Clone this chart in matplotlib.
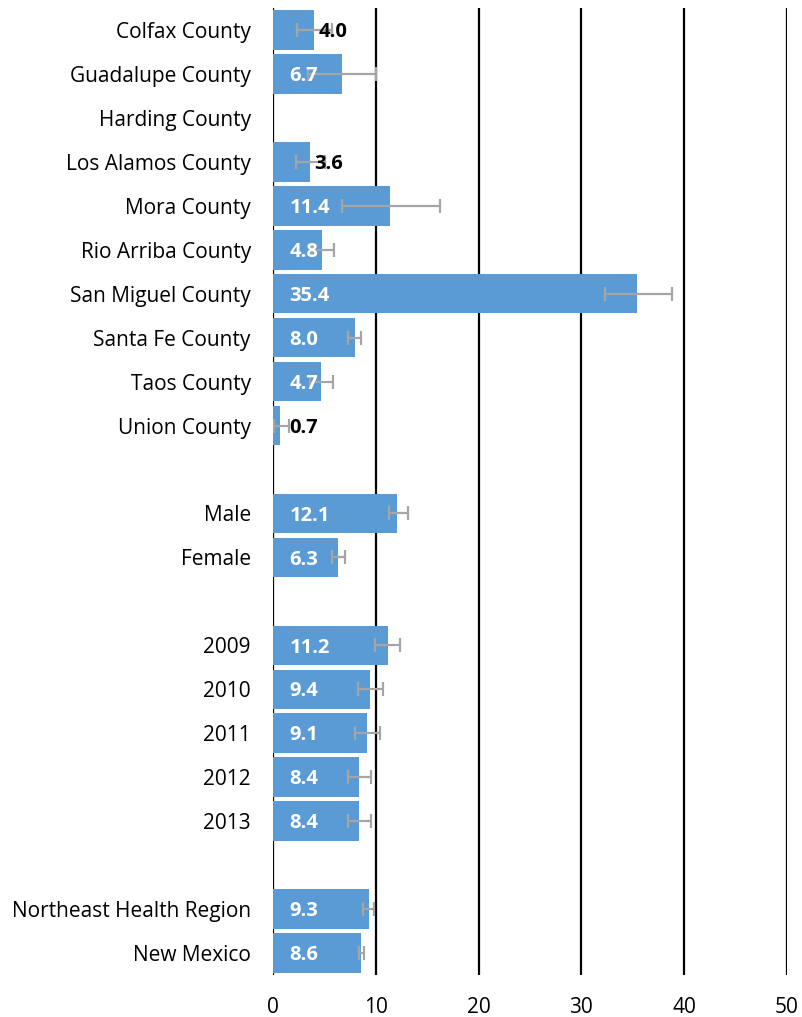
import matplotlib
matplotlib.use("Agg")
import matplotlib.pyplot as plt
import numpy as np

plt.rcParams['font.family'] = ['Open Sans', 'DejaVu Sans']

# ---- data ----
county_names = ["Colfax County", "Guadalupe County", "Harding County", "Los Alamos County",
                "Mora County", "Rio Arriba County", "San Miguel County", "Santa Fe County",
                "Taos County", "Union County"]
county_values = [4.0, 6.7, None, 3.6, 11.4, 4.8, 35.4, 8.0, 4.7, 0.7]
county_low = [2.3, 3.4, None, 2.2, 6.7, 3.8, 32.3, 7.3, 3.6, 0.1]
county_high = [5.7, 10.0, None, 5.1, 16.2, 5.9, 38.8, 8.6, 5.8, 1.6]

sex_names = ["Male", "Female"]
sex_values = [12.1, 6.3]
sex_low = [11.3, 5.7]
sex_high = [13.1, 7.0]

year_names = ["2009", "2010", "2011", "2012", "2013"]
year_values = [11.2, 9.4, 9.1, 8.4, 8.4]
year_low = [9.9, 8.3, 8.0, 7.3, 7.3]
year_high = [12.4, 10.7, 10.4, 9.5, 9.5]

region_names = ["Northeast Health Region", "New Mexico"]
region_values = [9.3, 8.6]
region_low = [8.8, 8.4]
region_high = [9.8, 8.9]

x_ticks = [0, 10, 20, 30, 40, 50]

# ---- assemble rows with blank gaps ----
groups = [
    (county_names, county_values, county_low, county_high),
    (sex_names, sex_values, sex_low, sex_high),
    (year_names, year_values, year_low, year_high),
    (region_names, region_values, region_low, region_high),
]
labels, vals, lows, highs = [], [], [], []
for gi, (n, v, lo, hi) in enumerate(groups):
    if gi > 0:
        labels.append("")
        vals.append(None)
        lows.append(None)
        highs.append(None)
    labels += n
    vals += v
    lows += lo
    highs += hi

pos = np.arange(len(labels))

W, H = 803, 1017
fig = plt.figure(figsize=(W / 100, H / 100), dpi=100)
ax = fig.add_axes([273 / W, 1 - 975 / H, (787 - 273) / W, (975 - 8) / H])

bar_color = "#5B9BD5"
err_color = "#A5A5A5"

for p, v, lo, hi in zip(pos, vals, lows, highs):
    if v is None:
        continue
    ax.barh(p, v, height=0.9, color=bar_color, zorder=3)
    ax.errorbar(v, p, xerr=[[v - lo], [hi - v]], fmt="none", ecolor=err_color,
                elinewidth=1.6, capsize=5, capthick=1.6, zorder=4)
    if v < 4.5:
        ax.text(max(v + 0.4, 1.6), p + 0.05, f"{v:.1f}", ha="left", va="center",
                fontsize=14.5, fontweight="bold", color="black", zorder=5)
    else:
        ax.text(1.6, p + 0.05, f"{v:.1f}", ha="left", va="center",
                fontsize=14.5, fontweight="bold", color="white", zorder=5)

ax.set_xlim(0, 50)
ax.set_ylim(len(labels) - 0.5, -0.5)
ax.set_yticks(pos)
ax.set_yticklabels(labels, fontsize=15)
ax.set_xticks(x_ticks)
ax.set_xticklabels([str(t) for t in x_ticks], fontsize=15)
ax.tick_params(axis="y", length=0, pad=16)
ax.tick_params(axis="x", length=0, pad=16)
for t in x_ticks:
    ax.axvline(t, color="black", linewidth=1.6, zorder=2)
for s in ax.spines.values():
    s.set_visible(False)

fig.savefig("out.png", dpi=100)
